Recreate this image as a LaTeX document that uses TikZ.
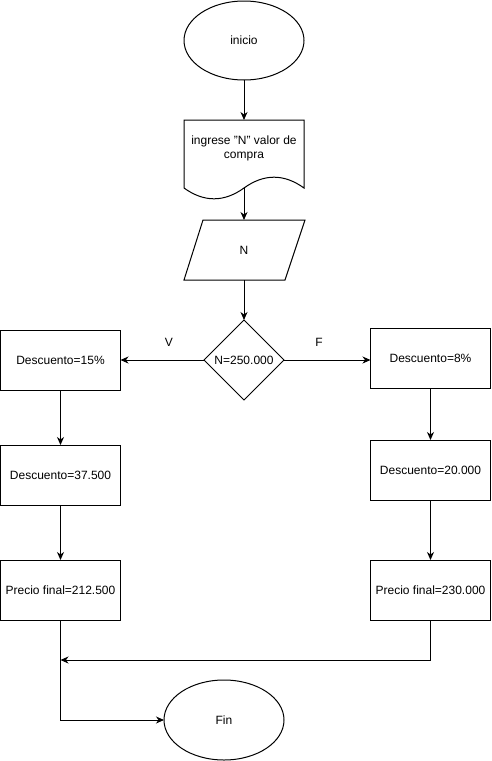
\documentclass[tikz,border=0pt]{standalone}
\usepackage{fontspec}
\setmainfont{Liberation Sans}
\usetikzlibrary{shapes.geometric,arrows.meta}
\tikzset{
  txt/.style={font=\fontsize{12}{14}\selectfont},
  base/.style={draw, line width=1pt, outer sep=0pt, inner sep=0pt, txt},
  proc/.style={base, rectangle, minimum width=120pt, minimum height=60pt},
  term/.style={base, ellipse, minimum width=120pt, minimum height=79pt},
  dec/.style={base, diamond, minimum width=80pt, minimum height=80pt},
  ghost/.style={outer sep=0pt, inner sep=0pt, txt, align=center},
  arr/.style={line width=1pt, -{Stealth[length=8pt,width=7pt,inset=2.5pt]}},
  ln/.style={line width=1pt},
}
\begin{document}
\begin{tikzpicture}[x=1pt,y=-1pt]
\useasboundingbox (0,0) rectangle (491,761);
% start
\node[term] (ini) at (244,40.5) {inicio};
% document
\node[ghost, minimum width=120pt, minimum height=56pt] (doc) at (244,148) {ingrese "N" valor de\\compra};
\coordinate (docb) at (244,188);
\draw[ln] (184,188) -- (184,120) -- (304,120) -- (304,188)
  .. controls (284,173.6) and (264,173.6) .. (244,188)
  .. controls (224,202.4) and (204,202.4) .. (184,188);
% input
\node[ghost, minimum width=120pt, minimum height=60pt] (par) at (244,250) {N};
\draw[ln] (203,220) -- (305,220) -- (285,280) -- (184,280) -- cycle;
% decision
\node[dec] (dec) at (244,360) {N=250.000};
% left branch
\node[proc] (l1) at (60.5,360) {Descuento=15\%};
\node[proc] (l2) at (60.5,475) {Descuento=37.500};
\node[proc] (l3) at (60.5,590) {Precio final=212.500};
% right branch
\node[proc] (r1) at (430.5,358) {Descuento=8\%};
\node[proc] (r2) at (430.5,470) {Descuento=20.000};
\node[proc] (r3) at (430.5,590) {Precio final=230.000};
% end
\node[term, minimum height=80pt] (fin) at (224,720) {Fin};
% labels
\node[txt] (lv) at (169,342) {V};
\node[txt] (lf) at (319,342) {F};
% connectors
\draw[arr] (ini.south) -- (doc.north);
\draw[arr] (docb) -- (par.north);
\draw[arr] (par.south) -- (dec.north);
\draw[arr] (dec.west) -- (l1.east);
\draw[arr] (dec.east) -- (dec.east -| r1.west);
\draw[arr] (l1.south) -- (l2.north);
\draw[arr] (l2.south) -- (l3.north);
\draw[arr] (r1.south) -- (r2.north);
\draw[arr] (r2.south) -- (r3.north);
\coordinate (m) at (60.5,660);
\draw[arr] (r3.south) |- (m);
\draw[arr] (l3.south) |- (fin.west);
\end{tikzpicture}
\end{document}
